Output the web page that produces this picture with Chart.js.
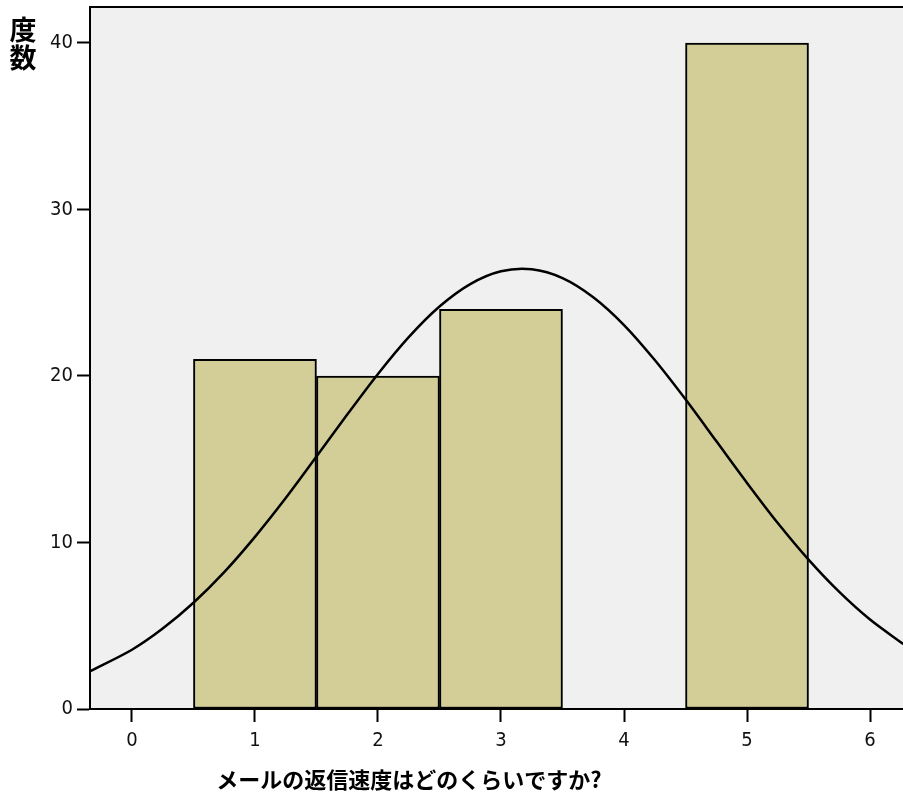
<!DOCTYPE html>
<html>
<head>
<meta charset="utf-8">
<script src="https://cdn.jsdelivr.net/npm/chart.js@4.4.1/dist/chart.umd.min.js"></script>
<style>
  html, body { margin: 0; padding: 0; background: #fff; }
  #wrap { width: 903px; height: 799px; }
</style>
</head>
<body>
<div id="wrap"><canvas id="chart" width="903" height="799"></canvas></div>
<script>
  // histogram bins and counts
  const binCenters = [1, 2, 3, 4, 5];
  const counts = [21, 20, 24, 0, 40];

  // normal curve
  const curveX = [-0.34, 0, 0.25, 0.5, 0.75, 1, 1.25, 1.5, 1.75, 2, 2.25, 2.5, 2.75, 3, 3.25,
                  3.5, 3.75, 4, 4.25, 4.5, 4.75, 5, 5.25, 5.5, 5.75, 6, 6.27];
  const curveY = [2.27, 3.56, 4.83, 6.38, 8.22, 10.34, 12.67, 15.16, 17.68, 20.12, 22.33, 24.17, 25.52, 26.29, 26.41,
                  25.88, 24.73, 23.06, 20.96, 18.60, 16.09, 13.58, 11.17, 8.97, 7.03, 5.37, 3.90];

  const xTicks = [0, 1, 2, 3, 4, 5, 6];
  const yTicks = [0, 10, 20, 30, 40];
  const xTitle = 'メールの返信速度はどのくらいですか?';
  const yTitle = ['度', '数'];

  const X_MIN = -0.341, X_MAX = 6.268;
  const Y_MIN = 0, Y_MAX = 42.16;

  const tickFont = { family: "'DejaVu Sans Condensed', 'DejaVu Sans', sans-serif", size: 20 };
  const cjkBold = "'Noto Sans CJK JP', 'Noto Sans CJK SC', sans-serif";

  const frame = {
    id: 'frame',
    beforeDraw(chart) {
      const { ctx, chartArea: a } = chart;
      ctx.save();
      ctx.fillStyle = '#f0f0f0';
      ctx.fillRect(a.left, a.top, a.right - a.left, a.bottom - a.top);
      ctx.restore();
    },
    afterDraw(chart) {
      const { ctx, chartArea: a } = chart;
      ctx.save();
      ctx.strokeStyle = '#000';
      ctx.lineWidth = 2;
      ctx.beginPath();
      ctx.moveTo(a.left - 1, a.top);
      ctx.lineTo(a.right, a.top);
      ctx.stroke();

      ctx.fillStyle = '#000';
      ctx.textAlign = 'center';
      ctx.textBaseline = 'middle';
      ctx.font = 'bold 22px ' + cjkBold;
      ctx.fillText(xTitle, 409, 780);

      ctx.font = 'bold 27px ' + cjkBold;
      yTitle.forEach((ch, i) => ctx.fillText(ch, 23, 30 + i * 28));
      ctx.restore();
    }
  };

  new Chart(document.getElementById('chart'), {
    type: 'bar',
    data: {
      datasets: [
        {
          type: 'line',
          data: curveX.map((x, i) => ({ x: x, y: curveY[i] })),
          borderColor: '#000',
          borderWidth: 2.5,
          pointRadius: 0,
          tension: 0.3,
          fill: false,
          order: 0
        },
        {
          type: 'bar',
          data: binCenters.map((x, i) => ({ x: x, y: counts[i] })),
          backgroundColor: '#d3ce98',
          borderColor: '#000',
          borderWidth: 2,
          borderSkipped: false,
          barPercentage: 1,
          categoryPercentage: 1,
          order: 1
        }
      ]
    },
    options: {
      responsive: false,
      animation: false,
      layout: { padding: { top: 7, right: 0, left: 0, bottom: 0 } },
      plugins: { legend: { display: false }, tooltip: { enabled: false } },
      scales: {
        x: {
          type: 'linear',
          offset: false,
          min: X_MIN,
          max: X_MAX,
          afterBuildTicks: s => { s.ticks = xTicks.map(v => ({ value: v })); },
          afterFit: s => { s.height = 90; s.paddingLeft = 0; s.paddingRight = 0; },
          grid: { offset: false, drawOnChartArea: false, drawTicks: true, tickLength: 13, tickWidth: 2, tickColor: '#000' },
          border: { display: true, color: '#000', width: 2 },
          ticks: { font: tickFont, color: '#111', padding: 7, maxRotation: 0 }
        },
        y: {
          min: Y_MIN,
          max: Y_MAX,
          afterBuildTicks: s => { s.ticks = yTicks.map(v => ({ value: v })); },
          afterFit: s => { s.width = 90; s.paddingTop = 0; s.paddingBottom = 0; },
          grid: { drawOnChartArea: false, drawTicks: true, tickLength: 13, tickWidth: 2, tickColor: '#000' },
          border: { display: true, color: '#000', width: 2 },
          ticks: { font: tickFont, color: '#111', padding: 4 }
        }
      }
    },
    plugins: [frame]
  });
</script>
</body>
</html>
